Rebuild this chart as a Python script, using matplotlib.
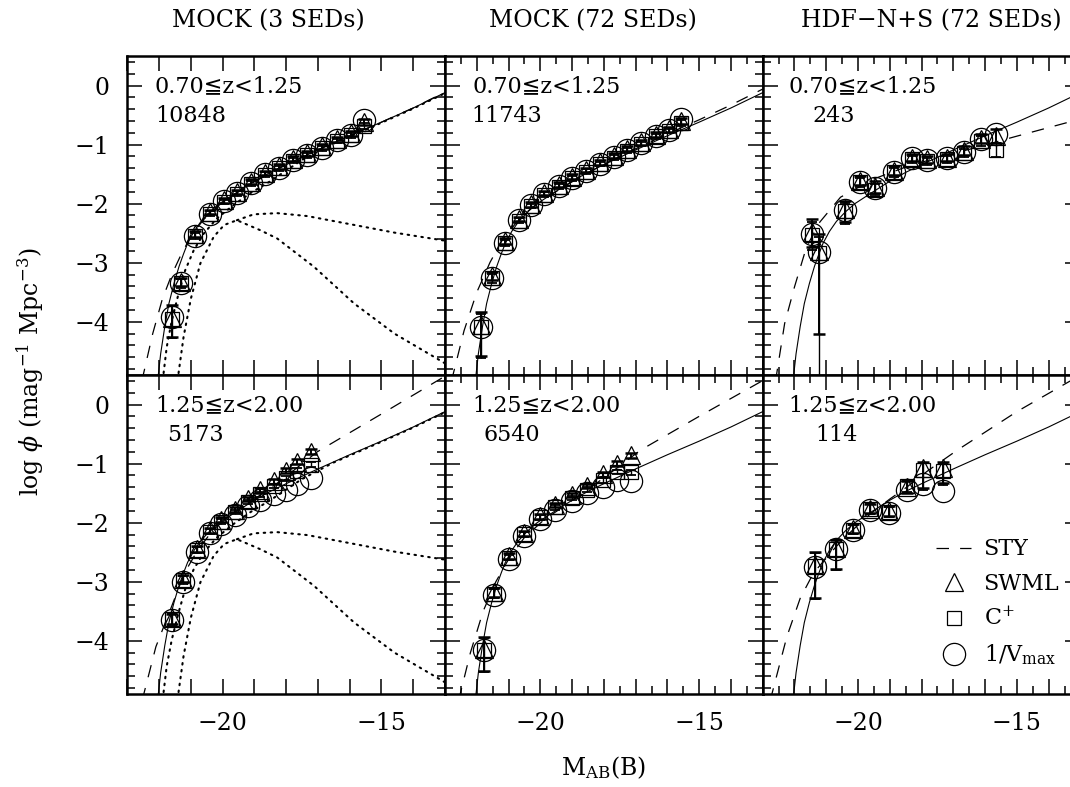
import numpy as np
import matplotlib.pyplot as plt
from matplotlib.ticker import MultipleLocator, FuncFormatter
from matplotlib.lines import Line2D

plt.rcParams['font.family'] = ['DejaVu Serif', 'DejaVu Sans']
plt.rcParams['mathtext.fontset'] = 'dejavuserif'
plt.rcParams['lines.scale_dashes'] = False

# ------------------------------------------------------------------
# model curves
# ------------------------------------------------------------------
model_mag = [-22.08, -22.02, -21.95, -21.82, -21.69, -21.53, -21.37, -21.23, -21.10, -20.90,
             -20.68, -20.40, -20.10, -19.50, -19.00, -18.50, -18.00, -17.00, -16.00, -15.00,
             -14.00, -13.00]
model_phi = [-5.10, -4.88, -4.54, -4.08, -3.69, -3.35, -3.06, -2.85, -2.67, -2.47,
             -2.30, -2.14, -2.00, -1.79, -1.62, -1.47, -1.34, -1.09, -0.85, -0.62,
             -0.38, -0.12]

# SED components of the 3-SED mock (dotted)
late_mag = [-21.92, -21.86, -21.76, -21.60, -21.39, -21.18, -20.91, -20.60, -20.18, -19.65,
            -19.12, -18.50, -17.50, -16.50, -15.00, -14.00, -13.00]
late_phi = [-5.10, -4.88, -4.43, -3.98, -3.53, -3.13, -2.79, -2.51, -2.25, -2.02,
            -1.82, -1.62, -1.26, -0.98, -0.63, -0.39, -0.13]
early_mag = [-21.45, -21.39, -21.23, -21.00, -20.70, -20.28, -19.95, -19.55, -18.81, -18.28,
             -17.12, -15.86, -14.59, -13.07, -12.95]
early_phi = [-5.10, -4.88, -4.26, -3.61, -3.01, -2.56, -2.36, -2.28, -2.45, -2.59,
             -3.07, -3.69, -4.20, -4.68, -4.72]
mid_mag = [-19.55, -19.02, -18.28, -17.33, -15.86, -14.59, -13.07, -12.95]
mid_phi = [-2.28, -2.18, -2.16, -2.21, -2.36, -2.49, -2.62, -2.63]

# ------------------------------------------------------------------
# MOCK (3 SEDs), 0.70<=z<1.25
# ------------------------------------------------------------------
tl_mag = [-21.60, -21.30, -20.86, -20.41, -19.97, -19.55, -19.10, -18.68, -18.23, -17.78,
          -17.34, -16.86, -16.41, -15.97, -15.55]
tl_swml = [-3.93, -3.32, -2.52, -2.14, -1.94, -1.80, -1.63, -1.48, -1.37, -1.24,
           -1.15, -1.03, -0.91, -0.81, -0.62]
tl_cplus = [-3.95, -3.35, -2.55, -2.17, -1.97, -1.83, -1.66, -1.51, -1.40, -1.27,
            -1.18, -1.06, -0.94, -0.84, -0.68]
tl_vmax = [-3.91, -3.35, -2.55, -2.17, -1.96, -1.82, -1.65, -1.50, -1.39, -1.26,
           -1.17, -1.05, -0.93, -0.83, -0.58]
tl_lo = [0.32, 0.08, 0.05, 0.04, 0.04, 0.04, 0.04, 0.04, 0.04, 0.04, 0.04, 0.04, 0.04, 0.04, 0.05]
tl_hi = [0.21, 0.07, 0.05, 0.04, 0.04, 0.04, 0.04, 0.04, 0.04, 0.04, 0.04, 0.04, 0.04, 0.04, 0.05]
tl_sty_mag = [-22.55, -22.49, -22.20, -21.90, -21.60, -21.34, -21.00, -20.60, -20.10, -19.50,
              -19.00, -18.00, -17.00, -16.00, -15.00, -14.00, -13.00]
tl_sty_phi = [-5.00, -4.88, -4.20, -3.62, -3.20, -2.90, -2.55, -2.27, -2.02, -1.80,
              -1.63, -1.34, -1.09, -0.85, -0.62, -0.38, -0.11]

# MOCK (72 SEDs), 0.70<=z<1.25
tm_mag = [-21.87, -21.52, -21.10, -20.68, -20.29, -19.87, -19.42, -19.00, -18.55, -18.12,
          -17.68, -17.26, -16.82, -16.37, -15.95, -15.58]
tm_swml = [-4.06, -3.22, -2.63, -2.26, -2.01, -1.82, -1.68, -1.54, -1.43, -1.30,
           -1.19, -1.07, -0.96, -0.83, -0.74, -0.60]
tm_cplus = [-4.09, -3.26, -2.67, -2.29, -2.04, -1.85, -1.71, -1.57, -1.46, -1.33,
            -1.22, -1.10, -0.99, -0.86, -0.77, -0.64]
tm_vmax = [-4.08, -3.25, -2.66, -2.28, -2.03, -1.84, -1.70, -1.56, -1.45, -1.32,
           -1.21, -1.09, -0.98, -0.85, -0.76, -0.56]
tm_lo = [0.52, 0.08, 0.05, 0.04, 0.04, 0.04, 0.04, 0.04, 0.04, 0.04, 0.04, 0.04, 0.04, 0.04, 0.04, 0.05]
tm_hi = [0.23, 0.07, 0.05, 0.04, 0.04, 0.04, 0.04, 0.04, 0.04, 0.04, 0.04, 0.04, 0.04, 0.04, 0.04, 0.05]
tm_sty_mag = [-22.80, -22.74, -22.40, -22.00, -21.58, -21.20, -20.80, -20.30, -19.70, -19.00,
              -18.00, -17.00, -16.00, -15.00, -14.00, -13.00]
tm_sty_phi = [-5.00, -4.88, -4.15, -3.50, -2.99, -2.62, -2.35, -2.08, -1.86, -1.63,
              -1.33, -1.07, -0.82, -0.58, -0.33, -0.06]

# HDF-N+S (72 SEDs), 0.70<=z<1.25
tr_mag = [-21.45, -21.24, -20.40, -19.93, -19.45, -18.87, -18.29, -17.82, -17.21, -16.66,
          -16.12, -15.66]
tr_swml = [-2.48, -2.80, -2.09, -1.61, -1.72, -1.44, -1.22, -1.25, -1.22, -1.10,
           -0.90, -0.86]
tr_cplus = [-2.53, -2.84, -2.13, -1.64, -1.76, -1.47, -1.25, -1.28, -1.25, -1.14,
            -0.94, -1.09]
tr_vmax = [-2.51, -2.82, -2.11, -1.63, -1.74, -1.46, -1.23, -1.26, -1.23, -1.12,
           -0.91, -0.82]
tr_lo = [0.25, 1.41, 0.22, 0.08, 0.10, 0.07, 0.06, 0.06, 0.06, 0.07, 0.08, 0.12]
tr_hi = [0.22, 0.28, 0.14, 0.08, 0.10, 0.07, 0.06, 0.06, 0.06, 0.07, 0.08, 0.12]
tr_cplus_lo = [0.25, 3.00, 0.22, 0.08, 0.10, 0.07, 0.06, 0.06, 0.06, 0.07, 0.08, 0.12]
tr_sty_mag = [-22.62, -22.56, -22.31, -22.00, -21.62, -21.20, -20.55, -19.50, -18.50, -17.50,
              -16.50, -15.09, -13.30, -13.00]
tr_sty_phi = [-5.00, -4.88, -4.03, -3.41, -2.73, -2.31, -1.89, -1.58, -1.38, -1.22,
              -1.08, -0.87, -0.61, -0.57]

# MOCK (3 SEDs), 1.25<=z<2.00
bl_mag = [-21.60, -21.26, -20.81, -20.41, -20.05, -19.60, -19.21, -18.81, -18.39, -18.02,
          -17.65, -17.23]
bl_swml = [-3.62, -2.95, -2.45, -2.13, -1.95, -1.78, -1.60, -1.45, -1.30, -1.12,
           -0.97, -0.80]
bl_cplus = [-3.63, -2.97, -2.47, -2.15, -1.98, -1.82, -1.65, -1.52, -1.38, -1.25,
            -1.12, -1.02]
bl_vmax = [-3.65, -3.00, -2.49, -2.18, -2.02, -1.87, -1.72, -1.61, -1.52, -1.44,
           -1.35, -1.24]
bl_lo = [0.10, 0.06, 0.05, 0.04, 0.04, 0.04, 0.04, 0.04, 0.04, 0.04, 0.04, 0.04]
bl_hi = [0.08, 0.06, 0.05, 0.04, 0.04, 0.04, 0.04, 0.04, 0.04, 0.04, 0.04, 0.04]
bl_sty_mag = [-22.55, -22.49, -22.10, -21.65, -21.20, -20.80, -20.30, -19.70, -19.00, -18.20,
              -17.02, -15.00, -13.00]
bl_sty_phi = [-5.00, -4.92, -4.10, -3.48, -2.85, -2.48, -2.12, -1.85, -1.60, -1.30,
              -0.80, -0.16, 0.48]

# MOCK (72 SEDs), 1.25<=z<2.00
bm_mag = [-21.76, -21.47, -20.97, -20.51, -20.02, -19.53, -19.00, -18.53, -18.02, -17.58,
          -17.13]
bm_swml = [-4.14, -3.18, -2.56, -2.18, -1.89, -1.70, -1.53, -1.38, -1.18, -1.00,
           -0.86]
bm_cplus = [-4.15, -3.20, -2.59, -2.20, -1.91, -1.74, -1.58, -1.44, -1.28, -1.14,
            -1.15]
bm_vmax = [-4.16, -3.23, -2.61, -2.23, -1.93, -1.78, -1.64, -1.49, -1.40, -1.28,
           -1.30]
bm_lo = [0.37, 0.07, 0.05, 0.04, 0.04, 0.04, 0.04, 0.04, 0.04, 0.04, 0.04]
bm_hi = [0.20, 0.07, 0.05, 0.04, 0.04, 0.04, 0.04, 0.04, 0.04, 0.04, 0.04]
bm_sty_mag = [-22.60, -22.53, -22.20, -21.80, -21.40, -21.00, -20.50, -19.90, -19.20, -18.40,
              -17.60, -16.84, -15.00, -13.05, -12.95]
bm_sty_phi = [-5.00, -4.92, -4.20, -3.50, -3.00, -2.62, -2.25, -1.96, -1.70, -1.40,
              -1.08, -0.77, -0.20, 0.39, 0.42]

# HDF-N+S (72 SEDs), 1.25<=z<2.00
br_mag = [-21.35, -20.68, -20.16, -19.61, -19.03, -18.47, -17.94, -17.34]
br_swml = [-2.72, -2.43, -2.10, -1.76, -1.80, -1.40, -1.08, -1.08]
br_cplus = [-2.74, -2.44, -2.12, -1.77, -1.82, -1.38, -1.10, -1.12]
br_vmax = [-2.75, -2.45, -2.13, -1.78, -1.83, -1.44, -1.34, -1.46]
br_lo = [0.55, 0.36, 0.08, 0.08, 0.09, 0.10, 0.34, 0.25]
br_hi = [0.23, 0.14, 0.08, 0.08, 0.09, 0.10, 0.11, 0.11]
br_sty_mag = [-22.80, -22.72, -22.24, -21.82, -21.40, -20.68, -20.16, -19.61, -19.00, -18.47,
              -17.80, -16.87, -15.00, -13.35, -13.00]
br_sty_phi = [-5.00, -4.92, -3.93, -3.28, -2.85, -2.40, -2.12, -1.85, -1.60, -1.40,
              -1.12, -0.77, -0.12, 0.39, 0.49]

col_titles = ['MOCK (3 SEDs)', 'MOCK (72 SEDs)', 'HDF\u2212N+S (72 SEDs)']
z_labels = ['0.70\u2266z<1.25', '1.25\u2266z<2.00']
counts = ['10848', '11743', '243', '5173', '6540', '114']

# ------------------------------------------------------------------
W, H = 1070, 787
fig = plt.figure(figsize=(W / 100, H / 100), dpi=100)

col_left = [127.3, 445.0, 762.7]
pan_w = 317.7
row_top = [56.0, 375.0]
pan_h = 319.0

panels = [
    (tl_mag, tl_swml, tl_cplus, tl_vmax, tl_lo, tl_hi, tl_lo, tl_sty_mag, tl_sty_phi),
    (tm_mag, tm_swml, tm_cplus, tm_vmax, tm_lo, tm_hi, tm_lo, tm_sty_mag, tm_sty_phi),
    (tr_mag, tr_swml, tr_cplus, tr_vmax, tr_lo, tr_hi, tr_cplus_lo, tr_sty_mag, tr_sty_phi),
    (bl_mag, bl_swml, bl_cplus, bl_vmax, bl_lo, bl_hi, bl_lo, bl_sty_mag, bl_sty_phi),
    (bm_mag, bm_swml, bm_cplus, bm_vmax, bm_lo, bm_hi, bm_lo, bm_sty_mag, bm_sty_phi),
    (br_mag, br_swml, br_cplus, br_vmax, br_lo, br_hi, br_lo, br_sty_mag, br_sty_phi),
]
count_x = [0.087, 0.084, 0.155, 0.124, 0.121, 0.165]

dash_sty = (0, (9.0, 8.0))
dot_sty = (0, (1.1, 3.9))
tri_ms, sq_ms, circ_ms = 13, 10, 16

def only_fives(v, pos):
    if abs(v / 5 - round(v / 5)) < 1e-6:
        return '\u2212%d' % abs(v) if v < 0 else '%d' % v
    return ''

axes = []
for i, (mag, swml, cplus, vmax, lo, hi, clo, smag, sphi) in enumerate(panels):
    r, c = divmod(i, 3)
    ax = fig.add_axes([col_left[c] / W, 1 - (row_top[r] + pan_h) / H, pan_w / W, pan_h / H])
    axes.append(ax)
    ax.set_xlim(-23, -13)
    ax.set_ylim(-4.9, 0.5)

    ax.plot(model_mag, model_phi, color='k', lw=0.8)
    ax.plot(smag, sphi, color='k', lw=0.9, ls=dash_sty)
    if c == 0:
        for mm, pp in [(late_mag, late_phi), (early_mag, early_phi), (mid_mag, mid_phi)]:
            ax.plot(mm, pp, color='k', lw=1.5, ls=dot_sty, dash_capstyle='round')

    ax.errorbar(mag, swml, yerr=[lo, hi], fmt='none', ecolor='k', elinewidth=1.4,
                capsize=4.5, capthick=1.8)
    ax.errorbar(mag, cplus, yerr=[clo, hi], fmt='none', ecolor='k', elinewidth=1.0,
                capsize=3.5, capthick=1.3)
    ax.plot(mag, swml, ls='none', marker='^', ms=tri_ms, mfc='none', mec='k', mew=0.9)
    ax.plot(mag, cplus, ls='none', marker='s', ms=sq_ms, mfc='none', mec='k', mew=0.9)
    ax.plot(mag, vmax, ls='none', marker='o', ms=circ_ms, mfc='none', mec='k', mew=0.9)

    ax.text(0.087 if c != 2 else 0.081, 0.904, z_labels[r], transform=ax.transAxes,
            fontsize=16, ha='left', va='center')
    ax.text(count_x[i], 0.812, counts[i], transform=ax.transAxes,
            fontsize=16, ha='left', va='center')

    for side in ax.spines.values():
        side.set_linewidth(1.8)
    ax.xaxis.set_major_locator(MultipleLocator(1))
    ax.xaxis.set_major_formatter(FuncFormatter(only_fives))
    if c > 0:
        ax.xaxis.set_minor_locator(MultipleLocator(0.5))
    ax.yaxis.set_major_locator(MultipleLocator(1))
    ax.yaxis.set_minor_locator(MultipleLocator(0.2))
    ax.tick_params(which='both', direction='in', top=True, right=True, width=1.1,
                   labelsize=17, pad=13)
    ax.tick_params(axis='y', which='major', length=11)
    ax.tick_params(axis='y', which='minor', length=6)
    ax.tick_params(axis='x', which='major', length=11)
    ax.tick_params(axis='x', which='minor', length=6)
    if c > 0:
        ax.tick_params(axis='y', labelleft=False)
    if r == 0:
        ax.tick_params(axis='x', labelbottom=False)

# legend in the lower-right panel
handles = [Line2D([], [], color='k', lw=0.9, ls=dash_sty),
           Line2D([], [], ls='none', marker='^', ms=tri_ms, mfc='none', mec='k', mew=0.9),
           Line2D([], [], ls='none', marker='s', ms=sq_ms, mfc='none', mec='k', mew=0.9),
           Line2D([], [], ls='none', marker='o', ms=circ_ms, mfc='none', mec='k', mew=0.9)]
labels = ['STY', 'SWML', r'C$^{+}$', r'1/V$_{\rm max}$']
axes[5].legend(handles, labels, loc='upper left', bbox_to_anchor=(0.545, 0.488),
               frameon=False, fontsize=16, handlelength=1.6, handletextpad=0.55,
               labelspacing=0.55, borderpad=0, borderaxespad=0)

title_x = [268, 593, 931]
for t, x in zip(col_titles, title_x):
    fig.text(x / W, 1 - 21 / H, t, fontsize=17, ha='center', va='center')

fig.text(30 / W, 1 - 372 / H, r'log $\phi$ (mag$^{-1}$ Mpc$^{-3}$)', rotation=90,
         fontsize=17, ha='center', va='center')
fig.text(604 / W, 1 - 768 / H, r'M$_{\rm AB}$(B)', fontsize=17, ha='center', va='center')

fig.savefig('out.png', dpi=100)
